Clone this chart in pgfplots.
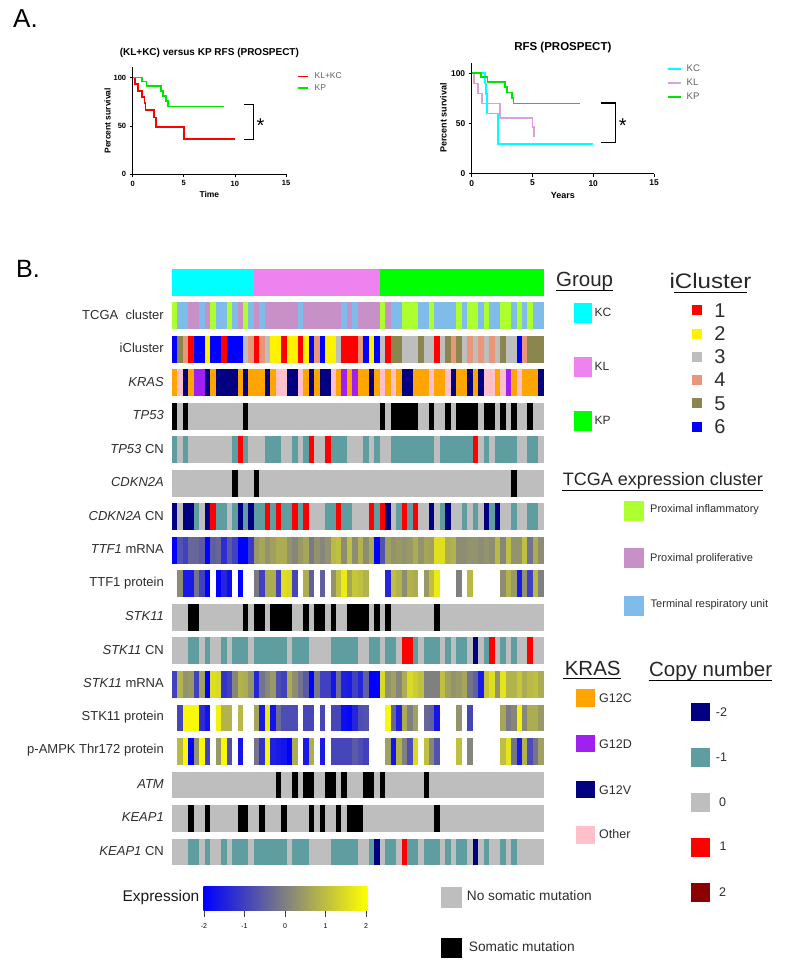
\documentclass[border=0pt]{standalone}
\usepackage{fontspec}
\setmainfont{Liberation Sans}
\usepackage{graphicx}
\usepackage{pgfplots}
\pgfplotsset{compat=1.18}

\definecolor{cKC}{RGB}{0,255,255}
\definecolor{cKL}{RGB}{238,130,238}
\definecolor{cKP}{RGB}{0,255,0}
\definecolor{cPI}{RGB}{173,255,47}
\definecolor{cPP}{RGB}{199,144,199}
\definecolor{cTR}{RGB}{127,188,233}
\definecolor{cGray}{RGB}{190,190,190}
\definecolor{cSalmon}{RGB}{233,150,122}
\definecolor{cOlive}{RGB}{139,134,78}
\definecolor{cOrange}{RGB}{255,165,0}
\definecolor{cPink}{RGB}{255,192,203}
\definecolor{cNavy}{RGB}{0,0,128}
\definecolor{cPurple}{RGB}{160,32,240}
\definecolor{cTeal}{RGB}{95,158,160}
\definecolor{cDarkRed}{RGB}{139,0,0}
\definecolor{cPlum}{RGB}{221,160,221}
\definecolor{cText}{RGB}{45,45,45}
\definecolor{cMid}{RGB}{128,128,128}

% one heatmap cell
\pgfdeclareplotmark{cell}{\pgfpathrectangle{\pgfpoint{-2.85pt}{-13.4pt}}{\pgfpoint{5.7pt}{26.8pt}}\pgfusepathqfill}

\newcommand{\fs}[1]{\fontsize{#1}{#1}\selectfont}

\pgfplotsset{
  cat/.style={scatter, only marks, mark=cell, scatter src=explicit symbolic,
    scatter/classes={
      c={fill=cKC}, l={fill=cKL}, p={fill=cKP},
      g={fill=cPI}, m={fill=cPP}, t={fill=cTR},
      r={fill=red}, y={fill=yellow}, a={fill=cGray}, s={fill=cSalmon}, o={fill=cOlive}, b={fill=blue},
      f={fill=cOrange}, q={fill=cPink}, n={fill=cNavy}, d={fill=cPurple},
      k={fill=black}, h={fill=cTeal}}},
  num/.style={scatter, only marks, mark=cell, point meta=explicit},
  km/.style={scale only axis, axis lines=left, axis line style={-, line width=0.9pt},
    xmin=0, xmax=15, ymin=0, xtick={0,5,10,15}, ytick={0,50,100},
    tick align=outside, major tick length=3pt, tick style={black, line width=0.8pt},
    /pgf/number format/assume math mode=true,
    legend cell align=left,
    legend style={draw=none, fill=none, inner sep=0pt, text=cText!75}},
}

\begin{document}
\begin{tikzpicture}
\path[use as bounding box] (0,0) rectangle (786pt,968pt);

% A. left survival panel
\begin{axis}[km, at={(132.7pt,793.7pt)}, anchor=south west, width=153.3pt, height=107pt, ymax=110.7,
  tick label style={font=\fs{7.5}\bfseries},
  xlabel={Time}, ylabel={Percent survival},
  label style={font=\fs{8.5}\bfseries},
  title={(KL+KC) versus KP RFS (PROSPECT)},
  title style={font=\fs{10}\bfseries, at={(axis description cs:0.5,1.0)}, anchor=south},
  xlabel style={at={(axis description cs:0.5,-0.13)}, anchor=north},
  ylabel style={at={(axis description cs:-0.12,0.5)}, anchor=south},
  legend style={at={(axis description cs:1.07,0.97)}, anchor=north west, font=\fs{8.5}, row sep=0.5pt},
  legend image code/.code={\draw[#1] (0pt,0pt) -- (10pt,0pt);}]
\addplot[const plot, red, line width=1.7pt] coordinates {(0,100)(0.23,93.4)(0.5,86.5)(0.9,79.6)(1.15,73.4)(1.25,66.5)(2.1,58.6)(2.3,48.6)(5,36.2)(10,36.2)};
\addplot[const plot, green!90!black, line width=1.7pt] coordinates {(0,100)(0.9,95.9)(1.35,91.4)(2.75,86.5)(2.95,81)(3.25,75.9)(3.45,70)(8.9,70)};
\legend{\hspace{4pt}KL+KC,\hspace{4pt}KP}
\end{axis}

% A. right survival panel
\begin{axis}[km, at={(471.7pt,794.3pt)}, anchor=south west, width=182.3pt, height=111pt, ymax=110.6,
  tick label style={font=\fs{8.4}\bfseries},
  xlabel={Years}, ylabel={Percent survival},
  label style={font=\fs{9}\bfseries},
  title={RFS (PROSPECT)},
  title style={font=\fs{11.5}\bfseries, at={(axis description cs:0.5,1.0)}, anchor=south},
  xlabel style={at={(axis description cs:0.5,-0.14)}, anchor=north},
  ylabel style={at={(axis description cs:-0.118,0.5)}, anchor=south},
  legend style={at={(axis description cs:1.07,1.0)}, anchor=north west, font=\fs{9.6}, row sep=2pt},
  legend image code/.code={\draw[#1] (0pt,0pt) -- (13pt,0pt);}]
\addplot[const plot, cKC, line width=1.7pt] coordinates {(0,100)(1.1,90)(1.18,79.4)(1.23,60)(2.14,29.6)(10,29.6)};
\addplot[const plot, cPlum, line width=1.7pt] coordinates {(0,100)(0.2,90)(0.5,80)(0.82,70)(2.33,55.8)(5,46.8)(5.1,36.9)(5.1,36.9)};
\addplot[const plot, green!90!black, line width=1.7pt] coordinates {(0,100)(0.77,96)(1.3,91.7)(2.74,86.7)(2.9,81)(3.3,75.7)(3.43,70)(8.9,70)};
\legend{\hspace{3pt}KC,\hspace{3pt}KL,\hspace{3pt}KP}
\end{axis}

% B. heatmap: x is the sample, y the track
\begin{axis}[scale only axis, at={(172pt,102.5pt)}, anchor=south west, width=372pt, height=596.8pt,
  xmin=-0.5, xmax=67.5, ymin=-0.403, ymax=17.403, y dir=reverse, clip=false,
  axis x line=none, axis y line=left, axis line style={draw=none}, major tick length=0pt,
  ytick={1,...,17},
  yticklabels={TCGA\ \ cluster,iCluster\hspace{2.5pt},\textit{KRAS},\textit{TP53},\textit{TP53} CN\hspace{2pt},\textit{CDKN2A},\textit{CDKN2A} CN\hspace{2pt},\textit{TTF1} mRNA,TTF1 protein,\textit{STK11},\textit{STK11} CN\hspace{2pt},\textit{STK11} mRNA,STK11 protein,p-AMPK Thr172 protein,\textit{ATM},\textit{KEAP1},\textit{KEAP1} CN\hspace{2pt}},
  y tick label style={font=\fs{13}, text=cText, inner sep=0pt, xshift=-8pt, yshift=1pt},
  point meta min=-2, point meta max=2,
  colormap={expr}{rgb255=(0,0,255) rgb255=(128,128,128) rgb255=(255,255,0)}]
% Group
\addplot[cat] table[x expr=\coordindex, y expr=0, meta index=0, row sep=\\, header=false] {
c\\c\\c\\c\\c\\c\\c\\c\\c\\c\\
c\\c\\c\\c\\c\\l\\l\\l\\l\\l\\
l\\l\\l\\l\\l\\l\\l\\l\\l\\l\\
l\\l\\l\\l\\l\\l\\l\\l\\p\\p\\
p\\p\\p\\p\\p\\p\\p\\p\\p\\p\\
p\\p\\p\\p\\p\\p\\p\\p\\p\\p\\
p\\p\\p\\p\\p\\p\\p\\p\\
};
% TCGA cluster
\addplot[cat] table[x expr=\coordindex, y expr=1, meta index=0, row sep=\\, header=false] {
g\\t\\t\\m\\m\\t\\m\\g\\t\\t\\
g\\t\\m\\g\\t\\m\\t\\m\\m\\m\\
m\\m\\m\\t\\m\\m\\m\\m\\m\\m\\
m\\t\\m\\t\\m\\m\\m\\m\\g\\m\\
t\\t\\g\\g\\g\\t\\t\\g\\t\\t\\
t\\t\\g\\t\\g\\g\\t\\g\\t\\t\\
g\\g\\t\\g\\t\\g\\t\\t\\
};
% iCluster
\addplot[cat] table[x expr=\coordindex, y expr=2, meta index=0, row sep=\\, header=false] {
b\\o\\s\\r\\b\\b\\y\\b\\b\\r\\
b\\b\\b\\a\\s\\r\\s\\a\\y\\y\\
r\\y\\y\\r\\y\\b\\s\\b\\y\\y\\
a\\r\\r\\r\\s\\b\\y\\b\\a\\r\\
o\\o\\a\\a\\a\\o\\a\\a\\r\\a\\
o\\s\\o\\a\\s\\a\\s\\a\\s\\a\\
o\\a\\a\\b\\s\\o\\o\\o\\
};
% KRAS
\addplot[cat] table[x expr=\coordindex, y expr=3, meta index=0, row sep=\\, header=false] {
f\\q\\n\\f\\d\\d\\n\\f\\n\\n\\
n\\n\\f\\n\\f\\f\\f\\n\\f\\q\\
q\\n\\n\\q\\f\\n\\f\\n\\n\\q\\
f\\d\\f\\d\\f\\f\\n\\f\\q\\f\\
q\\f\\n\\n\\f\\f\\f\\q\\f\\f\\
q\\n\\f\\f\\n\\f\\n\\q\\q\\f\\
q\\d\\f\\q\\f\\f\\f\\n\\
};
% TP53
\addplot[cat] table[x expr=\coordindex, y expr=4, meta index=0, row sep=\\, header=false] {
k\\a\\k\\a\\a\\a\\a\\a\\a\\a\\
a\\a\\a\\k\\a\\a\\a\\a\\a\\a\\
a\\a\\a\\a\\a\\a\\a\\a\\a\\a\\
a\\a\\a\\a\\a\\a\\a\\a\\k\\a\\
k\\k\\k\\k\\k\\a\\a\\k\\a\\a\\
k\\a\\k\\k\\k\\k\\a\\k\\k\\a\\
k\\a\\k\\a\\a\\k\\a\\a\\
};
% TP53 CN
\addplot[cat] table[x expr=\coordindex, y expr=5, meta index=0, row sep=\\, header=false] {
h\\a\\h\\a\\a\\a\\a\\a\\a\\a\\
a\\h\\r\\h\\a\\a\\a\\h\\h\\h\\
a\\a\\h\\a\\h\\r\\a\\a\\r\\h\\
h\\h\\a\\a\\a\\h\\a\\h\\a\\a\\
h\\h\\h\\h\\h\\h\\h\\h\\a\\h\\
h\\h\\h\\h\\h\\r\\a\\h\\a\\h\\
h\\h\\h\\a\\a\\h\\h\\a\\
};
% CDKN2A
\addplot[cat] table[x expr=\coordindex, y expr=6, meta index=0, row sep=\\, header=false] {
a\\a\\a\\a\\a\\a\\a\\a\\a\\a\\
a\\k\\a\\a\\a\\k\\a\\a\\a\\a\\
a\\a\\a\\a\\a\\a\\a\\a\\a\\a\\
a\\a\\a\\a\\a\\a\\a\\a\\a\\a\\
a\\a\\a\\a\\a\\a\\a\\a\\a\\a\\
a\\a\\a\\a\\a\\a\\a\\a\\a\\a\\
a\\a\\k\\a\\a\\a\\a\\a\\
};
% CDKN2A CN
\addplot[cat] table[x expr=\coordindex, y expr=7, meta index=0, row sep=\\, header=false] {
n\\a\\n\\n\\h\\a\\n\\r\\h\\h\\
a\\h\\n\\h\\n\\h\\h\\r\\h\\r\\
h\\h\\r\\h\\r\\a\\a\\a\\h\\h\\
r\\h\\h\\a\\a\\a\\r\\h\\r\\n\\
a\\h\\r\\h\\r\\a\\a\\n\\a\\h\\
n\\a\\a\\h\\a\\h\\a\\n\\h\\n\\
a\\a\\h\\a\\a\\h\\h\\a\\
};
% TTF1 mRNA
\addplot[num] table[x expr=\coordindex, y expr=8, meta index=0, row sep=\\, header=false] {
-2\\-0.7\\-1\\-0.4\\-0.4\\-0.6\\-2\\-0.5\\-0.4\\-1.3\\
-0.6\\-1\\-2\\-2\\-1.1\\0.4\\0.6\\0.3\\0.5\\0.7\\
0.7\\0.3\\0.1\\0.4\\0.6\\-0.1\\0.3\\0.1\\0.3\\0.9\\
1\\0.2\\1\\0.2\\0.8\\0.2\\0.7\\-2\\-0.7\\0.5\\
0.3\\0.4\\0.3\\0.4\\0.7\\0.3\\0.6\\0.5\\1.5\\1.5\\
0.7\\0.8\\0.2\\0.2\\0.3\\0.3\\0.2\\0.3\\0.2\\0.9\\
0.1\\1\\0.3\\0.3\\1\\-0.2\\0.7\\0.2\\
};
% TTF1 protein, samples without a value are left out
\addplot[num] table[x index=0, y expr=9, meta index=1, row sep=\\, header=false] {
1 0.2\\2 -1.6\\3 -1.6\\4 -0.2\\5 -1\\6 -2\\8 -2\\9 -1.4\\10 -1.8\\12 -2\\
15 -0.1\\16 -1\\17 0.7\\18 0.7\\19 -1\\20 1.5\\21 1.4\\22 -0.9\\24 0.7\\25 -0.5\\
27 -0.5\\29 0.3\\30 1\\31 1.7\\32 0.6\\33 1.1\\34 1\\35 0.8\\39 -1.4\\40 1\\
41 0.8\\42 0.2\\43 0.8\\44 0.7\\46 0.4\\47 1\\48 1.7\\52 0\\54 0.9\\60 0.2\\
61 0.8\\62 0.4\\63 -1.6\\64 0.3\\65 -1\\66 0.9\\67 0\\
};
% STK11
\addplot[cat] table[x expr=\coordindex, y expr=10, meta index=0, row sep=\\, header=false] {
a\\a\\a\\k\\k\\a\\a\\a\\a\\a\\
a\\a\\a\\k\\a\\k\\k\\a\\k\\k\\
k\\k\\a\\a\\k\\a\\k\\k\\a\\k\\
a\\a\\k\\k\\k\\k\\a\\k\\a\\k\\
a\\a\\a\\a\\a\\a\\a\\a\\k\\a\\
a\\a\\a\\a\\a\\a\\a\\a\\a\\a\\
a\\a\\a\\a\\a\\a\\a\\a\\
};
% STK11 CN
\addplot[cat] table[x expr=\coordindex, y expr=11, meta index=0, row sep=\\, header=false] {
a\\a\\a\\h\\h\\a\\h\\a\\a\\h\\
a\\h\\h\\h\\a\\h\\h\\h\\h\\h\\
h\\a\\h\\h\\h\\a\\a\\a\\a\\h\\
h\\h\\h\\h\\a\\a\\h\\h\\a\\h\\
h\\a\\r\\r\\h\\a\\h\\h\\h\\a\\
h\\a\\h\\h\\a\\n\\a\\h\\r\\a\\
h\\a\\h\\a\\a\\r\\a\\a\\
};
% STK11 mRNA
\addplot[num] table[x expr=\coordindex, y expr=12, meta index=0, row sep=\\, header=false] {
-1\\0.8\\0.3\\0.4\\-1\\0.5\\-2\\1.5\\1.4\\-1.2\\
-1\\0.1\\0.8\\0.7\\0.3\\-1.4\\-0.2\\0.1\\0.4\\-0.8\\
-1\\0.7\\0.2\\-0.2\\-0.6\\-2\\-0.1\\-1\\-1\\-1.7\\
-0.3\\-1.5\\-1.6\\-1\\-1.4\\-0.5\\-2\\-2\\1.4\\0.3\\
0.5\\0.1\\0.7\\1.4\\1.2\\1\\0\\0\\0\\1\\
0.5\\0.3\\0.4\\0.6\\-0.2\\-0.5\\-1.6\\1.1\\1.5\\0.3\\
1.6\\0.8\\0.8\\1.1\\0.7\\0.9\\1\\0.7\\
};
% STK11 protein
\addplot[num] table[x index=0, y expr=13, meta index=1, row sep=\\, header=false] {
1 -0.9\\2 1.9\\3 1.9\\4 1.9\\5 -1.3\\6 -1.7\\8 1.8\\9 0.8\\10 0.8\\12 0.9\\
15 0.6\\16 -1.6\\17 1.7\\18 -1.7\\19 -0.3\\20 -0.8\\21 -0.8\\22 -0.8\\24 -0.9\\25 -0.9\\
27 -0.9\\29 -0.9\\30 -0.9\\31 -1.8\\32 -1.9\\33 -1.4\\34 -0.8\\35 -0.7\\39 1.9\\40 -0.4\\
41 -1.5\\42 0.7\\43 0\\44 0.5\\46 -0.4\\47 -0.5\\48 -1.7\\52 0.3\\54 -0.9\\60 0.6\\
61 -0.1\\62 0.1\\63 1.8\\64 0.1\\65 0.7\\66 0.7\\67 0.4\\
};
% p-AMPK
\addplot[num] table[x index=0, y expr=14, meta index=1, row sep=\\, header=false] {
1 0.9\\2 1.9\\3 -2\\4 0.3\\5 1.9\\6 -1\\8 0.4\\9 1.9\\10 -0.8\\12 -1.7\\
15 -0.2\\16 -1.2\\17 1.9\\18 -1.5\\19 -1.6\\20 -1.7\\21 -2\\22 0.7\\24 -1.6\\25 0.7\\
27 -1.6\\29 -0.9\\30 -0.9\\31 -0.9\\32 -0.9\\33 -0.6\\34 -0.8\\35 -1\\39 0.5\\40 -1.7\\
41 0.8\\42 0\\43 -0.8\\44 1.4\\46 1\\47 0.1\\48 -0.7\\52 1\\54 0.1\\60 1\\
61 1.6\\62 -0.2\\63 -1.6\\64 0.8\\65 -0.8\\66 -0.2\\67 0.5\\
};
% ATM
\addplot[cat] table[x expr=\coordindex, y expr=15, meta index=0, row sep=\\, header=false] {
a\\a\\a\\a\\a\\a\\a\\a\\a\\a\\
a\\a\\a\\a\\a\\a\\a\\a\\a\\k\\
a\\a\\k\\a\\k\\k\\a\\a\\k\\k\\
a\\k\\a\\a\\a\\k\\k\\a\\k\\a\\
a\\a\\a\\a\\a\\a\\k\\a\\a\\a\\
a\\a\\a\\a\\a\\a\\a\\a\\a\\a\\
a\\a\\a\\a\\a\\a\\a\\a\\
};
% KEAP1
\addplot[cat] table[x expr=\coordindex, y expr=16, meta index=0, row sep=\\, header=false] {
a\\a\\a\\k\\a\\a\\k\\a\\a\\a\\
a\\a\\k\\k\\a\\a\\k\\a\\a\\a\\
k\\a\\a\\a\\a\\k\\a\\k\\a\\a\\
k\\a\\k\\k\\k\\a\\a\\a\\a\\a\\
a\\a\\a\\a\\a\\a\\a\\a\\k\\a\\
a\\a\\a\\a\\a\\a\\a\\a\\a\\a\\
a\\a\\a\\a\\a\\a\\a\\a\\
};
% KEAP1 CN
\addplot[cat] table[x expr=\coordindex, y expr=17, meta index=0, row sep=\\, header=false] {
a\\a\\a\\h\\h\\a\\h\\a\\a\\h\\
a\\h\\h\\h\\a\\h\\h\\h\\h\\h\\
h\\a\\h\\h\\h\\a\\a\\a\\a\\h\\
h\\h\\h\\h\\a\\a\\h\\n\\a\\h\\
h\\a\\r\\h\\h\\a\\h\\h\\h\\a\\
h\\a\\h\\h\\a\\n\\a\\h\\a\\a\\
h\\a\\h\\a\\a\\a\\a\\a\\
};
\end{axis}

% expression colour bar
\begin{axis}[scale only axis, at={(203.3pt,57.3pt)}, anchor=south west, width=164pt, height=24pt,
  xmin=-2.017, xmax=2.032, ymin=0, ymax=1,
  axis y line=none, axis x line*=bottom, axis line style={draw=none},
  xtick={-2,-1,0,1,2}, tick align=outside, major tick length=6pt, xtick style={black!75, line width=0.6pt},
  x tick label style={font=\fs{7}, inner sep=0pt, yshift=-7pt},
  /pgf/number format/assume math mode=true,
  axis background/.style={left color=blue, right color=yellow, middle color=cMid}]
\end{axis}

% annotation layer in pixel coordinates of the page
\begin{axis}[scale only axis, at={(0pt,0pt)}, anchor=south west, width=786pt, height=968pt,
  xmin=0, xmax=786, ymin=0, ymax=968, y dir=reverse, hide axis, clip=false]
\node[anchor=base west, inner sep=0pt, font=\fs{26}] at (13,28) {A.};
\node[anchor=base west, inner sep=0pt, font=\fs{25}] at (16,277) {B.};

% significance brackets
\draw[line width=1.4pt] (244.3,104.7) -- (253.3,104.7) -- (253.3,139.3) -- (244.3,139.3);
\node[font=\fs{20}] at (260.5,126) {*};
\draw[line width=1.4pt] (600.7,103) -- (615.7,103) -- (615.7,142.3) -- (600.7,142.3);
\node[font=\fs{20}] at (622.7,126) {*};

% Group
\node[font=\fs{20.5}, inner sep=0pt, text=black!85] at (584.6,281) {Group};
\draw[line width=0.8pt] (556,290.3) -- (613.3,290.3);
\fill[cKC] (574,302.7) rectangle (592,323.3);
\fill[cKL] (574,356.7) rectangle (592,377);
\fill[cKP] (574,410.7) rectangle (592,431);
\begin{scope}[every node/.style={anchor=west, inner sep=0pt, font=\fs{12}, text=cText}]
\node at (594.3,312.5) {KC};
\node at (594.3,366.5) {KL};
\node at (594.3,420.5) {KP};
\end{scope}

% iCluster
\node[font=\fs{21}, inner sep=0pt, text=black!85] at (710.5,280.5) {\scalebox{1.15}[1]{iCluster}};
\draw[line width=0.8pt] (674,292) -- (747,292);
\fill[red] (692,305.3) rectangle (702,315.3);
\fill[yellow] (692,328.7) rectangle (702,338.7);
\fill[cGray] (692,351.7) rectangle (702,361.7);
\fill[cSalmon] (692,375) rectangle (702,385);
\fill[cOlive] (692,398.3) rectangle (702,408.3);
\fill[blue] (692,421.7) rectangle (702,431.7);
\begin{scope}[every node/.style={inner sep=0pt, font=\fs{20}, text=cText}]
\node at (720,310.3) {1};
\node at (720,333.7) {2};
\node at (720,356.7) {3};
\node at (720,380) {4};
\node at (720,403.3) {5};
\node at (720,426.7) {6};
\end{scope}

% TCGA expression cluster
\node[font=\fs{18}, inner sep=0pt, text=black!85] at (662.8,481) {TCGA expression cluster};
\draw[line width=0.8pt] (562.3,490) -- (763.3,490);
\fill[cPI] (624.3,500.7) rectangle (644.3,520.7);
\fill[cPP] (624.3,548.3) rectangle (644.3,568.3);
\fill[cTR] (624.3,595.7) rectangle (644.3,615.7);
\begin{scope}[every node/.style={anchor=west, inner sep=0pt, font=\fs{11}, text=cText}]
\node at (650,510) {Proximal inflammatory};
\node at (650,559) {Proximal proliferative};
\node at (650.5,605) {Terminal respiratory unit};
\end{scope}

% KRAS
\node[font=\fs{20.5}, inner sep=0pt, text=black!85] at (592.7,668) {KRAS};
\draw[line width=0.8pt] (563.3,678.3) -- (621,678.3);
\fill[cOrange] (576.3,689.3) rectangle (594.7,706.7);
\fill[cPurple] (576.3,735) rectangle (594.7,752.3);
\fill[cNavy] (576.3,780.7) rectangle (594.7,798);
\fill[cPink] (576.3,826.3) rectangle (594.7,843.7);
\begin{scope}[every node/.style={anchor=west, inner sep=0pt, font=\fs{12.5}, text=cText}]
\node at (599,697.7) {G12C};
\node at (599,744.3) {G12D};
\node at (599,789.7) {G12V};
\node at (599,834.3) {Other};
\end{scope}

% Copy number
\node[font=\fs{20.5}, inner sep=0pt, text=black!85] at (710.7,670.7) {Copy number};
\draw[line width=0.8pt] (648.7,680.7) -- (772.3,680.7);
\fill[cNavy] (691,702.7) rectangle (709.7,721.3);
\fill[cTeal] (691,748) rectangle (709.7,766.7);
\fill[cGray] (691,793) rectangle (709.7,811.7);
\fill[red] (691,838) rectangle (709.7,856.7);
\fill[cDarkRed] (691,883.3) rectangle (709.7,902);
\begin{scope}[every node/.style={anchor=west, inner sep=0pt, font=\fs{12.5}, text=cText}]
\node at (715.7,711.7) {-2};
\node at (715.7,757) {-1};
\node at (719,802.3) {0};
\node at (719.5,846) {1};
\node at (719,892.3) {2};
\end{scope}

% mutation key and colour bar title
\fill[cGray] (441.3,887.3) rectangle (462,908);
\fill[black] (441.3,937.7) rectangle (462,958.3);
\begin{scope}[every node/.style={anchor=west, inner sep=0pt, font=\fs{13.7}, text=cText}]
\node at (466.7,896) {No somatic mutation};
\node at (468.7,946.7) {Somatic mutation};
\end{scope}
\node[anchor=east, inner sep=0pt, font=\fs{15.5}, text=black!90] at (199.5,897) {Expression};
\end{axis}
\end{tikzpicture}
\end{document}
